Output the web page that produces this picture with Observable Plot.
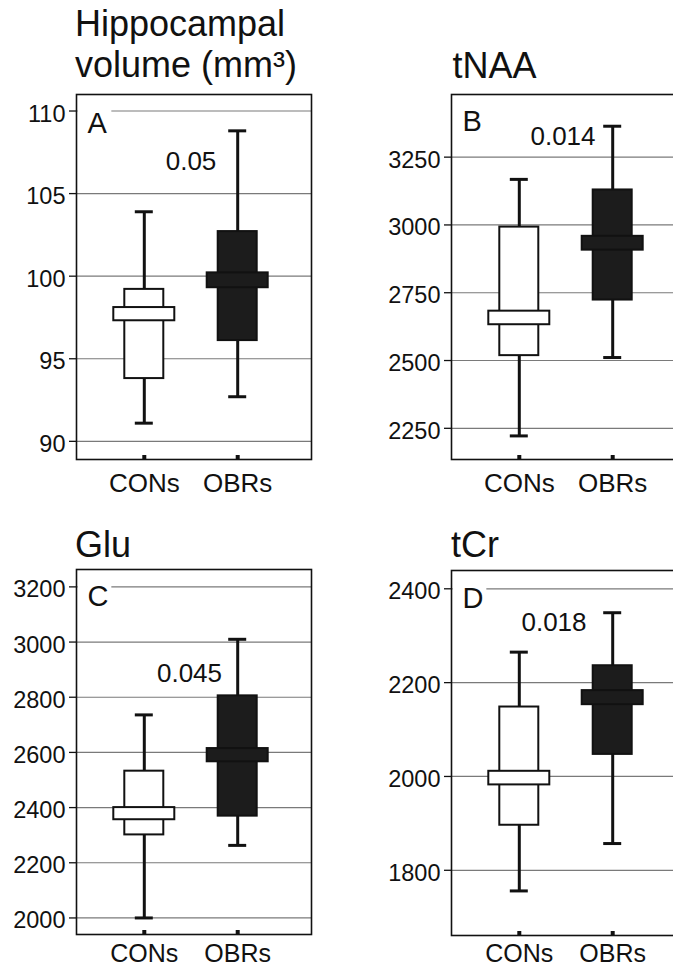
<!DOCTYPE html>
<html>
<head>
<meta charset="utf-8">
<script src="https://cdn.jsdelivr.net/npm/d3@7"></script>
<script src="https://cdn.jsdelivr.net/npm/@observablehq/plot@0.6"></script>
<style>
html, body { margin: 0; padding: 0; background: #fff; overflow: hidden; width: 673px; height: 970px; }
#root { position: relative; width: 673px; height: 970px; overflow: hidden; font-family: "Liberation Sans", Arial, sans-serif; color: #111; }
.panel { position: absolute; width: 330px; height: 420px; }
.title { position: absolute; font-size: 36px; line-height: 41px; white-space: pre; }
</style>
</head>
<body>
<div id="root"></div>
<script>
// ---- data ----
const groups = ["CONs", "OBRs"];
const panelLetters = ["A", "B", "C", "D"];
const titles = ["Hippocampal\nvolume (mm³)", "tNAA", "Glu", "tCr"];
const pValues = ["0.05", "0.014", "0.045", "0.018"];
// per panel: [CONs, OBRs]
const whiskerLow  = [[91.1, 92.7], [2222, 2511], [2000, 2263], [1756, 1857]];
const boxLow      = [[93.8, 96.1], [2518, 2723], [2301, 2369], [1896, 2047]];
const medianLow   = [[97.3, 99.3], [2632, 2907], [2356, 2566], [1982, 2153]];
const medianHigh  = [[98.1, 100.2], [2682, 2958], [2400, 2614], [2011, 2183]];
const boxHigh     = [[99.2, 102.7], [2992, 3129], [2532, 2805], [2148, 2236]];
const whiskerHigh = [[103.9, 108.8], [3168, 3364], [2736, 3010], [2265, 2349]];
const yTicks = [
  [90, 95, 100, 105, 110],
  [2250, 2500, 2750, 3000, 3250],
  [2000, 2200, 2400, 2600, 2800, 3000, 3200],
  [1800, 2000, 2200, 2400]
];
const yDomains = [[88.9, 111], [2135, 3481], [1940, 3263], [1661, 2439]];

// ---- layout / style ----
const panelPos = [[0, 85], [375, 85], [0, 560], [375, 561]];
const titlePos = [[75, 2.7], [452.5, 45.3], [75, 524.3], [451, 524]];
const letterDy = [18, 16, 16, 17];
const xLabelPad = [14, 14, 10, 9];
const xLabelSize = [26, 26, 25, 25];
const pOffset = [[-3, 75], [-6, 50.3], [-4.5, 112.7], [-15, 60]];
const groupFill = {CONs: "white", OBRs: "#1c1c1c"};
const ink = "#111";
const W = 330, H = 420, mL = 76, mT = 9, mB = 46, mR = 19;
const frameH = H - mT - mB;
const font = '"Liberation Sans", Arial, sans-serif';

const root = document.getElementById("root");

titles.forEach((t, i) => {
  const d = document.createElement("div");
  d.className = "title";
  d.textContent = t;
  d.style.left = titlePos[i][0] + "px";
  d.style.top = titlePos[i][1] + "px";
  root.appendChild(d);
});

panelLetters.forEach((letter, i) => {
  const rows = groups.map((g, j) => ({
    group: g,
    wLo: whiskerLow[i][j], q1: boxLow[i][j], mLo: medianLow[i][j],
    mHi: medianHigh[i][j], q3: boxHigh[i][j], wHi: whiskerHigh[i][j]
  }));
  const boxMarks = groups.flatMap(g => {
    const r = rows.filter(d => d.group === g);
    return [
      Plot.barY(r, {x: "group", y1: "q1", y2: "q3", fill: groupFill[g], stroke: ink, strokeWidth: 2}),
      Plot.barY(r, {x: "group", y1: "mLo", y2: "mHi", fill: groupFill[g], stroke: ink, strokeWidth: 2, insetLeft: -11, insetRight: -11})
    ];
  });
  const svg = Plot.plot({
    width: W, height: H,
    marginLeft: mL, marginTop: mT, marginBottom: mB, marginRight: mR,
    style: {fontFamily: font, background: "transparent", color: ink, overflow: "visible", maxWidth: "none"},
    x: {type: "band", domain: groups, range: [124.3, 256.7], paddingInner: 0.5825, paddingOuter: 0, align: 0.5, round: false},
    y: {domain: yDomains[i]},
    marks: [
      Plot.gridY(yTicks[i], {stroke: "#7a7a7a", strokeOpacity: 1, strokeWidth: 1.2}),
      Plot.dot([letter], {frameAnchor: "top-left", symbol: "square", r: 19, fill: "white", stroke: "none", dx: 18, dy: 24}),
      Plot.ruleX(rows, {x: "group", y1: "wLo", y2: "q1", stroke: ink, strokeWidth: 3}),
      Plot.ruleX(rows, {x: "group", y1: "q3", y2: "wHi", stroke: ink, strokeWidth: 3}),
      ...boxMarks,
      Plot.tickY(rows, {x: "group", y: "wLo", stroke: ink, strokeWidth: 3, insetLeft: 10.5, insetRight: 10.5}),
      Plot.tickY(rows, {x: "group", y: "wHi", stroke: ink, strokeWidth: 3, insetLeft: 10.5, insetRight: 10.5}),
      Plot.ruleX(groups, {x: d => d, stroke: ink, strokeWidth: 4, insetTop: frameH - 4}),
      Plot.frame({stroke: ink, strokeWidth: 1.6}),
      Plot.axisY(yTicks[i], {tickSize: 7, fill: "none", label: null, stroke: ink, strokeWidth: 1.3}),
      Plot.text(yTicks[i], {y: d => d, text: d => String(d), frameAnchor: "left", textAnchor: "end", dx: -11, dy: 3, fontSize: 23.5, fill: ink}),
      Plot.text([letter], {frameAnchor: "top-left", text: d => d, textAnchor: "start", lineAnchor: "top", dx: 11, dy: letterDy[i], fontSize: 29, fill: ink}),
      Plot.text([pValues[i]], {frameAnchor: "top", text: d => d, textAnchor: "middle", lineAnchor: "bottom", dx: pOffset[i][0], dy: pOffset[i][1], fontSize: 26, fill: ink}),
      Plot.axisX({tickSize: 0, tickPadding: xLabelPad[i], fontSize: xLabelSize[i], label: null, fill: ink})
    ]
  });
  const holder = document.createElement("div");
  holder.className = "panel";
  holder.style.left = panelPos[i][0] + "px";
  holder.style.top = panelPos[i][1] + "px";
  holder.appendChild(svg);
  root.appendChild(holder);
});
</script>
</body>
</html>
